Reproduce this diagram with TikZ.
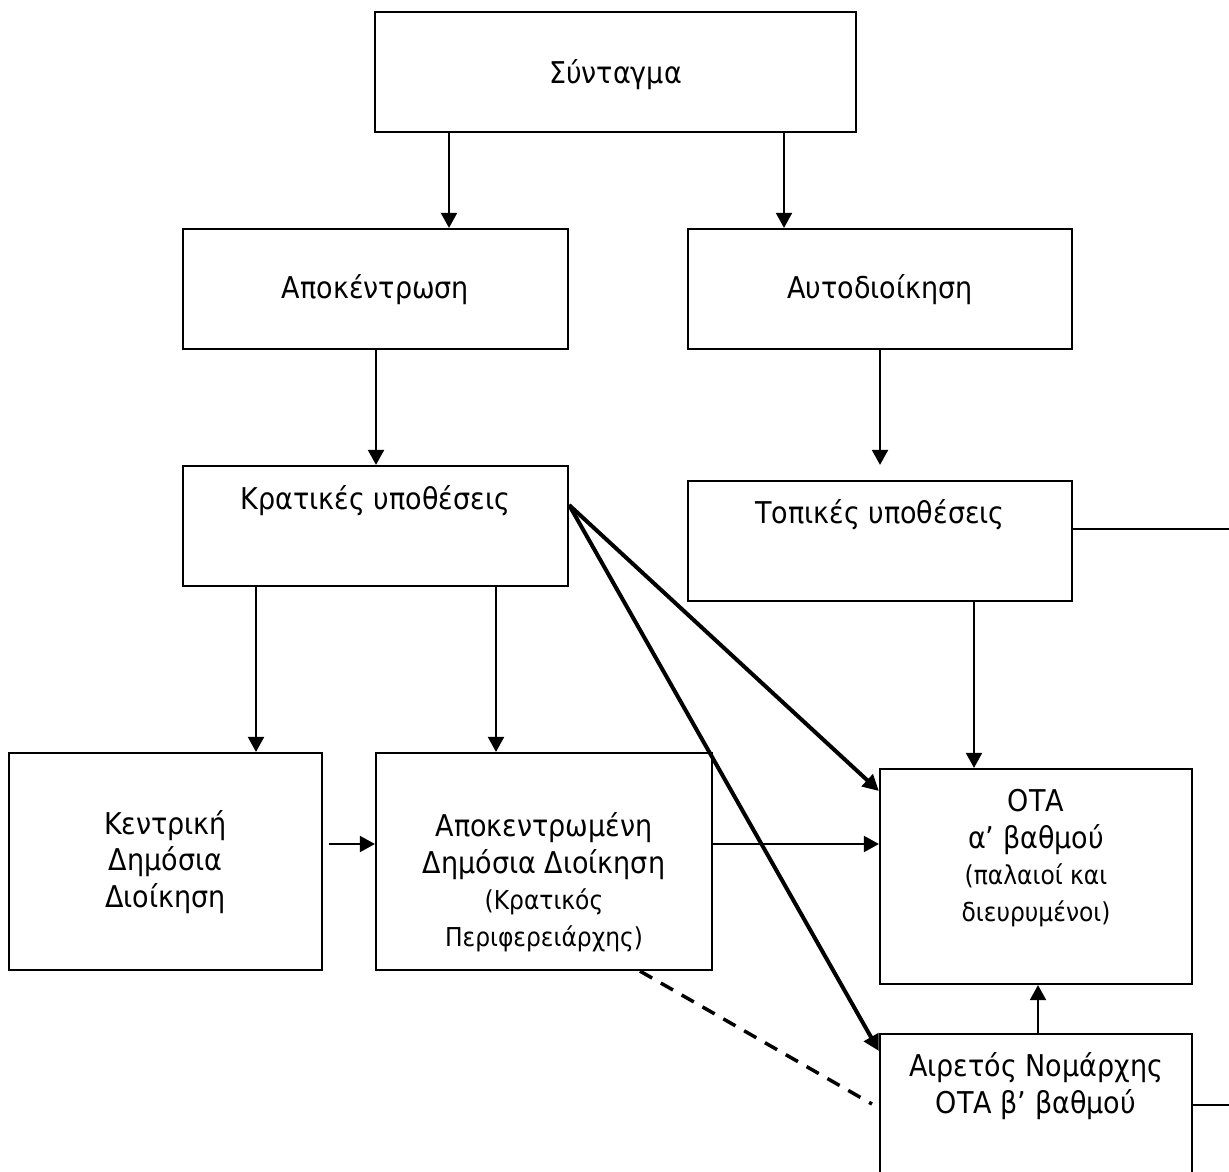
\documentclass[tikz,border=0pt]{standalone}
\usepackage{fontspec}
\setmainfont{DejaVu Sans}[FakeStretch=0.9]
\usetikzlibrary{arrows.meta}

\newcommand{\bigtxt}{\fontsize{15}{18.25}\selectfont}
\newcommand{\smalltxt}{\fontsize{13}{18.25}\selectfont}

\tikzset{
  box/.style={draw, line width=1.1pt, rectangle, inner sep=0pt},
  txt/.style={inner sep=0pt, align=center, font=\bigtxt},
  arr/.style={line width=1pt, -{Triangle[length=7.5pt,width=8pt]}},
  heavy/.style={line width=2pt, -{Triangle[length=8pt,width=8pt]}},
  plain/.style={line width=1pt},
  dashlink/.style={line width=1.75pt, dash pattern=on 7pt off 5pt}
}

\begin{document}
\begin{tikzpicture}[x=0.5pt, y=-0.5pt]
\useasboundingbox (0,0) rectangle (1229,1171);
\clip (0,0) rectangle (1229,1171);
\fill[white] (0,0) rectangle (1229,1171);

% boxes
\node[box, minimum width=240.5pt, minimum height=60pt] (synt) at (615.5,72) {};
\node[box, minimum width=192.5pt, minimum height=60pt] (apok) at (375.5,289) {};
\node[box, minimum width=192pt, minimum height=60pt] (autod) at (880,289) {};
\node[box, minimum width=192.5pt, minimum height=60pt] (krat) at (375.5,526) {};
\node[box, minimum width=192pt, minimum height=60pt] (topik) at (880,541) {};
\node[box, minimum width=156.5pt, minimum height=108.5pt] (kentr) at (165.5,861.5) {};
\node[box, minimum width=168pt, minimum height=108.5pt] (apokd) at (544,861.5) {};
\node[box, minimum width=156pt, minimum height=107.5pt] (otaa) at (1036,876.5) {};
\node[box, minimum width=156pt, minimum height=113pt] (airet) at (1036,1147) {};

% labels
\node[txt] (synt-t) at (615.5,75) {Σύνταγμα};
\node[txt] (apok-t) at (375.5,290) {Αποκέντρωση};
\node[txt] (autod-t) at (880,290) {Αυτοδιοίκηση};
\node[txt] (krat-t) at (375.5,501) {Κρατικές υποθέσεις};
\node[txt] (topik-t) at (880,515) {Τοπικές υποθέσεις};
\node[txt] (kentr-t) at (165.5,862) {Κεντρική\\Δημόσια\\Διοίκηση};
\node[txt] (apokd-t) at (544,882) {Αποκεντρωμένη\\Δημόσια Διοίκηση\\{\smalltxt (Κρατικός}\\{\smalltxt Περιφερειάρχης)}};
\node[txt] (otaa-t) at (1036,858) {ΟΤΑ\\α’ βαθμού\\{\smalltxt (παλαιοί και}\\{\smalltxt διευρυμένοι)}};
\node[txt] (airet-t) at (1036,1086) {Αιρετός Νομάρχης\\ΟΤΑ β’ βαθμού};

% connector columns and rows
\coordinate (c1) at (449,0);
\coordinate (c2) at (784,0);
\coordinate (c3) at (376,0);
\coordinate (c4) at (880,0);
\coordinate (c5) at (256,0);
\coordinate (c6) at (496,0);
\coordinate (c7) at (974,0);
\coordinate (c8) at (1038,0);
\coordinate (c9) at (640,0);
\coordinate (r1) at (0,844);
\coordinate (r2) at (0,505);
\coordinate (r3) at (0,791);
\coordinate (r4) at (0,1051);
\coordinate (r5) at (0,1108);
\coordinate (edgeT) at (1229,529);
\coordinate (edgeB) at (1229,1105);

% vertical arrows
\draw[arr] (synt.south -| c1) -- (apok.north -| c1);
\draw[arr] (synt.south -| c2) -- (autod.north -| c2);
\draw[arr] (apok.south -| c3) -- (krat.north -| c3);
\draw[arr, shorten >=7.5pt] (autod.south -| c4) -- (topik.north -| c4);
\draw[arr] (krat.south -| c5) -- (kentr.north -| c5);
\draw[arr] (krat.south -| c6) -- (apokd.north -| c6);
\draw[arr] (topik.south -| c7) -- (otaa.north -| c7);
\draw[arr] (airet.north -| c8) -- (otaa.south -| c8);

% horizontal arrows
\draw[arr, shorten <=3pt] (kentr.east |- r1) -- (apokd.west |- r1);
\draw[arr] (apokd.east |- r1) -- (otaa.west |- r1);

% heavy arrows from state affairs
\draw[heavy] (krat.east |- r2) -- (otaa.west |- r3);
\draw[heavy] (krat.east |- r2) -- (airet.west |- r4);

% dashed link
\draw[dashlink, shorten >=4pt] (apokd.south -| c9) -- (airet.west |- r5);

% lines running off to the right
\draw[plain] (topik.east |- edgeT) -- (edgeT);
\draw[plain] (airet.east |- edgeB) -- (edgeB);
\end{tikzpicture}
\end{document}
